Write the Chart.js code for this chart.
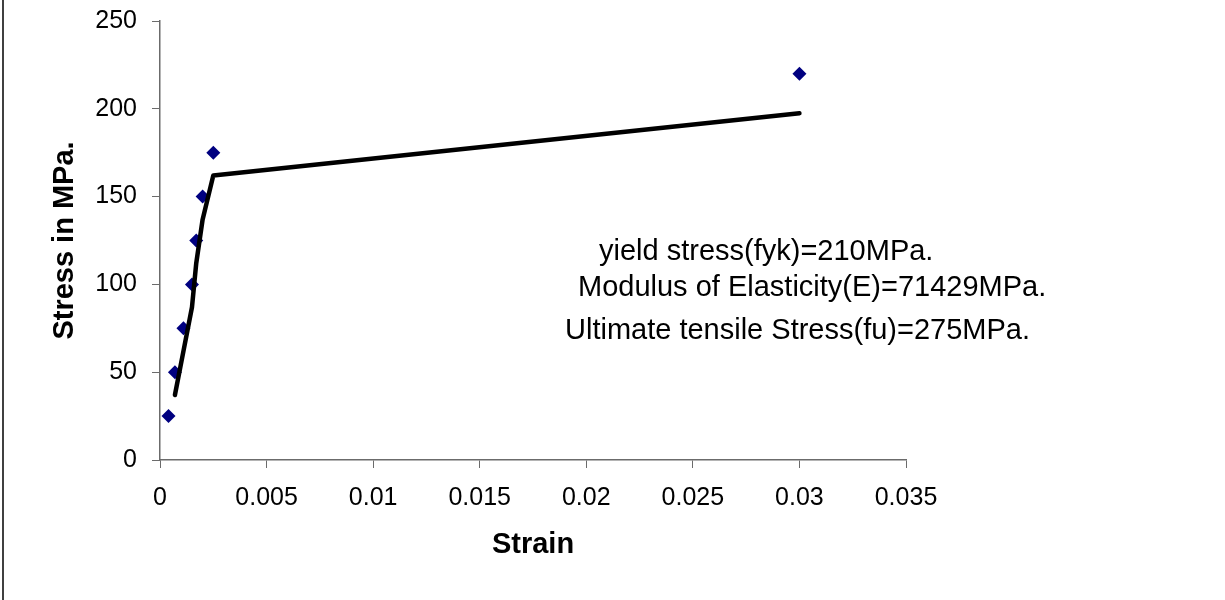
<!DOCTYPE html>
<html>
<head>
<meta charset="utf-8">
<script src="https://cdn.jsdelivr.net/npm/chart.js@4/dist/chart.umd.min.js"></script>
<style>
  body { margin: 0; background: #fff; }
</style>
</head>
<body>
<canvas id="stressStrain" width="1225" height="600"></canvas>
<script>
// test readings
const strain = [0.0004, 0.0007, 0.0011, 0.0015, 0.0017, 0.002, 0.0025, 0.03];
const stress = [25, 50, 75, 100, 125, 150, 175, 220];

// fitted curve drawn as black line
const fitStrain = [0.0007, 0.0011, 0.0015, 0.0017, 0.002, 0.0025, 0.03];
const fitStress = [37, 62, 87, 112, 137, 162, 197.5];

const xTicks = [0, 0.005, 0.01, 0.015, 0.02, 0.025, 0.03, 0.035];
const yTicks = [0, 50, 100, 150, 200, 250];

const notes = [
    'yield stress(fyk)=210MPa.',
    'Modulus of Elasticity(E)=71429MPa.',
    'Ultimate tensile Stress(fu)=275MPa.'
];

const FONT = "'Liberation Sans', Arial, sans-serif";

const toPoints = (xs, ys) => xs.map((x, i) => ({ x: x, y: ys[i] }));

// left frame line + text box on the right
const extras = {
    id: 'extras',
    beforeDraw(chart) {
        const ctx = chart.ctx;
        ctx.save();
        ctx.fillStyle = '#fff';
        ctx.fillRect(0, 0, chart.width, chart.height);
        ctx.strokeStyle = '#000';
        ctx.lineWidth = 1.5;
        ctx.beginPath();
        ctx.moveTo(3, 0);
        ctx.lineTo(3, chart.height);
        ctx.stroke();
        ctx.restore();
    },
    afterDraw(chart) {
        const ctx = chart.ctx;
        ctx.save();
        ctx.fillStyle = '#000';
        ctx.font = '29px ' + FONT;
        ctx.textAlign = 'left';
        ctx.textBaseline = 'alphabetic';
        ctx.fillText(notes[0], 599, 260);
        ctx.fillText(notes[1], 578, 296);
        ctx.fillText(notes[2], 565, 339);
        ctx.restore();
    }
};

new Chart(document.getElementById('stressStrain'), {
    type: 'scatter',
    data: {
        datasets: [{
            label: 'fit',
            data: toPoints(fitStrain, fitStress),
            showLine: true,
            borderColor: '#000',
            borderWidth: 4.5,
            borderCapStyle: 'round',
            borderJoinStyle: 'round',
            pointRadius: 0,
            fill: false,
        }, {
            label: 'test',
            data: toPoints(strain, stress),
            pointStyle: 'rectRot',
            pointRadius: 7,
            backgroundColor: '#000080',
            borderColor: '#000080',
            borderWidth: 0,
        }]
    },
    options: {
        responsive: false,
        animation: false,
        layout: {
            padding: { top: 21, right: 319, bottom: 0, left: 0 }
        },
        scales: {
            x: {
                type: 'linear',
                min: 0,
                max: 0.035,
                afterFit: (s) => { s.height = 140; s.paddingLeft = 0; s.paddingRight = 0; },
                afterBuildTicks: (s) => { s.ticks = xTicks.map(v => ({ value: v })); },
                grid: { display: true, drawOnChartArea: false, drawTicks: true, tickLength: 8, color: '#6b6b6b' },
                border: { display: true, color: '#6b6b6b', width: 1.5 },
                ticks: {
                    color: '#000',
                    padding: 15,
                    maxRotation: 0,
                    font: { family: FONT, size: 25 },
                    callback: (v) => String(+v.toFixed(3))
                },
                title: {
                    display: true,
                    text: 'Strain',
                    color: '#000',
                    font: { family: FONT, size: 29, weight: 'bold' },
                    padding: { top: 0, bottom: 38 }
                }
            },
            y: {
                type: 'linear',
                min: 0,
                max: 250,
                afterFit: (s) => { s.width = 160; s.paddingTop = 0; s.paddingBottom = 0; },
                afterBuildTicks: (s) => { s.ticks = yTicks.map(v => ({ value: v })); },
                grid: { display: true, drawOnChartArea: false, drawTicks: true, tickLength: 8, color: '#6b6b6b' },
                border: { display: true, color: '#6b6b6b', width: 1.5 },
                ticks: {
                    color: '#000',
                    padding: 15,
                    font: { family: FONT, size: 25 }
                },
                title: {
                    display: true,
                    text: 'Stress in MPa.',
                    color: '#000',
                    font: { family: FONT, size: 29, weight: 'bold' },
                    padding: { top: 48, bottom: 0 }
                }
            }
        },
        plugins: {
            legend: { display: false },
            tooltip: { enabled: false }
        }
    },
    plugins: [extras]
});
</script>
</body>
</html>
